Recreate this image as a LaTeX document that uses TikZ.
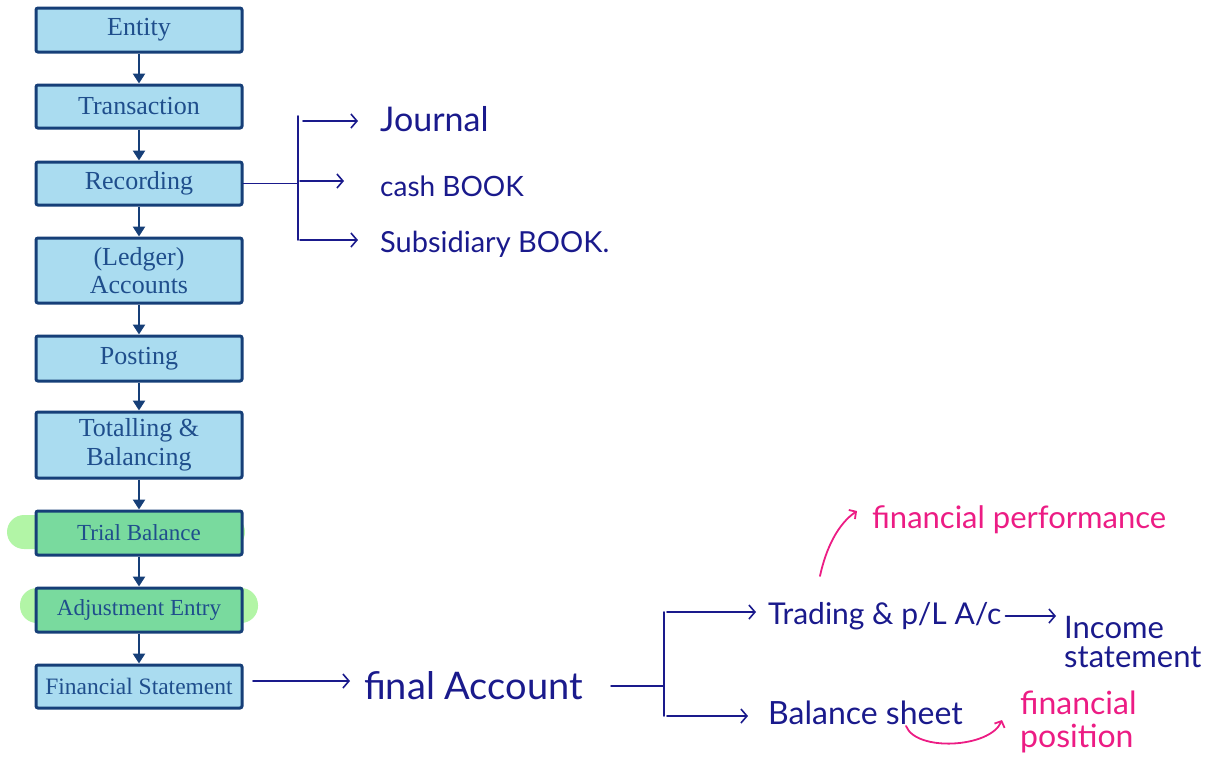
\documentclass[tikz,border=0pt]{standalone}
\usepackage{fontspec}
\usetikzlibrary{arrows.meta}
\newfontfamily\hand{Lato}
\newfontfamily\boxfont{Liberation Serif}
\definecolor{boxfill}{HTML}{AADCF0}
\definecolor{boxline}{HTML}{163F78}
\definecolor{boxtext}{HTML}{1F4E8C}
\definecolor{greenfill}{HTML}{79DA9E}
\definecolor{hilite}{HTML}{B2F5A6}
\definecolor{ink}{HTML}{1A1A8C}
\definecolor{pinkink}{HTML}{EC1C84}
\begin{document}
\begin{tikzpicture}[x=1pt,y=-1pt,
  stepbox/.style={draw=boxline, line width=3pt, fill=boxfill, rounded corners=2pt,
    minimum width=206pt, inner sep=0pt, text=boxtext, align=center,
    font=\boxfont\fontsize{26}{28.5}\selectfont},
  greenbox/.style={stepbox, fill=greenfill, font=\boxfont\fontsize{23}{24}\selectfont},
  flow/.style={draw=boxline, line width=2.8pt, -{Triangle[width=12pt,length=10pt]}},
  hilight/.style={fill=hilite, rounded corners=17pt},
  handline/.style={draw=ink, line width=1.6pt, line cap=round, line join=round},
  handarrow/.style={handline, -{Straight Barb[length=6pt,width=14pt,line width=1.6pt]}},
  pinkarrow/.style={draw=pinkink, line width=1.8pt, line cap=round,
    -{Straight Barb[length=5pt,width=11pt,line width=1.8pt]}},
  handtext/.style={text=ink, anchor=west, inner sep=0pt, font=\hand\fontsize{28}{32}\selectfont},
  pinktext/.style={text=pinkink, anchor=west, inner sep=0pt, font=\hand\fontsize{31}{34}\selectfont}]
\useasboundingbox (0,0) rectangle (1216,756);

% highlighter strokes behind the two green steps
\fill[hilight] (7,515) rectangle (245,549);
\fill[hilight] (20,588) rectangle (258,623);

% the accounting cycle
\node[stepbox, minimum height=44pt] (ent) at (139,30) {Entity};
\node[stepbox, minimum height=43pt] (tra) at (139,106.5) {Transaction};
\node[stepbox, minimum height=43pt] (rec) at (139,183.5) {Recording};
\node[stepbox, minimum height=65pt] (led) at (139,270.5) {(Ledger)\\Accounts};
\node[stepbox, minimum height=45pt] (pos) at (139,358.5) {Posting};
\node[stepbox, minimum height=66pt] (tot) at (139,445) {Totalling \&\\Balancing};
\node[greenbox, minimum height=44pt] (tri) at (139,533) {Trial Balance};
\node[greenbox, minimum height=44pt] (adj) at (139,610) {Adjustment Entry};
\node[stepbox, minimum height=43pt, font=\boxfont\fontsize{23.5}{24}\selectfont] (fin) at (139,686.5) {Financial Statement};

\draw[flow] (ent) -- (tra);
\draw[flow] (tra) -- (rec);
\draw[flow] (rec) -- (led);
\draw[flow] (led) -- (pos);
\draw[flow] (pos) -- (tot);
\draw[flow] (tot) -- (tri);
\draw[flow] (tri) -- (adj);
\draw[flow] (adj) -- (fin);

% books of original entry
\node[handtext, font=\hand\fontsize{34}{36}\selectfont] (jou) at (380,119) {Journal};
\node[handtext] (cas) at (380,186) {cash BOOK};
\node[handtext, font=\hand\fontsize{29}{32}\selectfont] (sub) at (380,244) {Subsidiary BOOK.};
\coordinate (rj) at (298,183.5);
\coordinate (rt) at (298,116);
\coordinate (rb) at (298,240);
\coordinate (a1) at (303,121);
\coordinate (a2) at (300,181);
\coordinate (a3) at (300,240);
\draw[handline] (rec.east) -- (rj);
\draw[handline] (rt) -- (rb);
\draw[handarrow, shorten >=22pt] (a1) -- (a1 -| jou.west);
\draw[handarrow, shorten >=36pt] (a2) -- (a2 -| cas.west);
\draw[handarrow, shorten >=22pt] (a3) -- (a3 -| sub.west);

% final accounts
\node[handtext, font=\hand\fontsize{38}{40}\selectfont] (fac) at (364,686) {final Account};
\coordinate (f1) at (253,681);
\draw[handarrow, shorten >=14pt] (f1) -- (f1 -| fac.west);
\coordinate (fj) at (664,686);
\coordinate (ft) at (664,612);
\coordinate (fb) at (664,716);
\draw[handline, shorten <=28pt] (fac.east |- fj) -- (fj);
\draw[handline] (ft) -- (fb);

\node[handtext, font=\hand\fontsize{30}{32}\selectfont] (trd) at (768,616) {Trading \& p/L A/c};
\node[handtext, align=left, font=\hand\fontsize{31}{29}\selectfont] (inc) at (1064,642) {Income\\statement};
\node[handtext, font=\hand\fontsize{32}{32}\selectfont] (bal) at (768,713) {Balance sheet};
\draw[handarrow, shorten >=12pt] (667,612) -- (667,612 -| trd.west);
\draw[handarrow, shorten >=20pt] (667,716) -- (667,716 -| bal.west);
\draw[handarrow, shorten <=4pt, shorten >=8pt] (trd.east) -- (trd.east -| inc.west);

% what each statement shows
\node[pinktext] (per) at (872,520) {financial performance};
\node[pinktext, align=left, font=\hand\fontsize{32}{33}\selectfont] (psn) at (1020,722) {financial\\position};
\coordinate (p1) at (820,576);
\coordinate (p2) at (857,511);
\draw[pinkarrow] (p1) .. controls (826,548) and (838,524) .. (p2);
\coordinate (s1) at (906,726);
\coordinate (s2) at (1002,720);
\draw[pinkarrow] (s1) .. controls (916,752) and (990,748) .. (s2);
\end{tikzpicture}
\end{document}
